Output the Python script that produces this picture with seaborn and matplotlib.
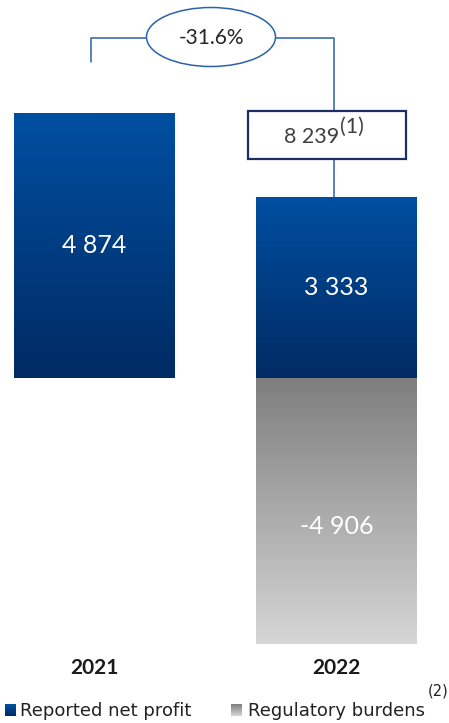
import numpy as np
import pandas as pd
import matplotlib
matplotlib.use("Agg")
import matplotlib.pyplot as plt
import matplotlib.transforms as mtransforms
from matplotlib.patches import Ellipse, Rectangle
from matplotlib.colors import to_rgb
import seaborn as sns

# ---- data ----
years = ["2021", "2022"]
net_profit = [4874, 3333]
regulatory_burdens = [np.nan, -4906]
adjusted_2022 = 8239
series_labels = ["Reported net profit", "Regulatory burdens"]

df = pd.DataFrame({"year": years, "net": net_profit, "burden": regulatory_burdens})

W, H = 449, 723
sns.set_theme(style="white")
plt.rcParams["font.family"] = ["Lato", "DejaVu Sans"]

fig = plt.figure(figsize=(W / 100, H / 100), dpi=100)
ax = fig.add_axes([0, 0, 1, 1])

BAR_W = 0.665
sns.barplot(data=df, x="year", y="net", order=years, color="#003f87",
            width=BAR_W, ax=ax, errorbar=None)
sns.barplot(data=df, x="year", y="burden", order=years, color="#aaaaaa",
            width=BAR_W, ax=ax, errorbar=None)

XLIM, YLIM = (-0.3905, 1.465), (-6362, 6955)
ax.set_xlim(*XLIM)
ax.set_ylim(*YLIM)
ax.set_axis_off()


def gradient(top, bottom, n=256):
    t = np.linspace(0, 1, n)[:, None]
    a, b = np.array(to_rgb(top)), np.array(to_rgb(bottom))
    return (a * (1 - t) + b * t)[:, None, :]


blue_grad = gradient("#004fa2", "#002b63")
gray_grad = gradient("#7e7e7e", "#d6d6d6")

# paint each bar with a vertical gradient clipped to its rectangle
for p in list(ax.patches):
    h = p.get_height()
    if h is None or np.isnan(h) or h == 0:
        continue
    x0, w = p.get_x(), p.get_width()
    y0, y1 = min(0, h), max(0, h)
    g = blue_grad if h > 0 else gray_grad
    im = ax.imshow(g, extent=[x0, x0 + w, y0, y1], aspect="auto",
                   origin="upper", zorder=3, interpolation="bilinear")
    im.set_clip_path(p)

ax.set_xlim(*XLIM)
ax.set_ylim(*YLIM)


def fmt(v):
    return f"{int(v):,}".replace(",", " ")


# value labels inside the bars
for i, v in enumerate(net_profit):
    ax.text(i, v / 2, fmt(v), color="white", fontsize=18, ha="center",
            va="center", zorder=5)
for i, v in enumerate(regulatory_burdens):
    if not np.isnan(v):
        ax.text(i, v * 0.56, fmt(v), color="white", fontsize=18,
                ha="center", va="center", zorder=5)

# pixel coordinates measured from the top-left corner
pix = mtransforms.Affine2D().scale(1, -1).translate(0, H)


def to_pix(x, y):
    dx, dy = ax.transData.transform((x, y))
    return dx, H - dy


line_c = "#2a62aa"
x_left = to_pix(0, 0)[0] - 3
x_right = to_pix(1, 0)[0] - 2
bar2_top = to_pix(1, net_profit[1])[1]

# change bracket with ellipse
ell_cx, ell_cy, ell_w, ell_h = 211, 37, 129, 59
ax.plot([x_left, x_left, ell_cx - ell_w / 2], [62, 38, 38], color=line_c,
        lw=1.1, transform=pix, zorder=4)
ax.plot([ell_cx + ell_w / 2, x_right, x_right], [38, 38, 111], color=line_c,
        lw=1.1, transform=pix, zorder=4)
ax.add_patch(Ellipse((ell_cx, ell_cy), ell_w, ell_h, transform=pix,
                     facecolor="white", edgecolor=line_c, lw=1.1, zorder=4))
change = (net_profit[1] / net_profit[0] - 1) * 100
ax.text(ell_cx, ell_cy + 1, f"{change:.1f}%", transform=pix, ha="center",
        va="center", fontsize=15, color="#262626", zorder=5)

# adjusted profit box and its connector
ax.plot([x_right, x_right], [159, bar2_top], color=line_c, lw=1.1,
        transform=pix, zorder=4)
ax.add_patch(Rectangle((248, 111), 158, 48, transform=pix, facecolor="white",
                       edgecolor="#1b2f66", lw=1.6, zorder=4))
t_main = ax.text(284, 143, fmt(adjusted_2022), transform=pix, ha="left",
                 va="baseline", fontsize=15.5, color="#404040", zorder=5)
fig.canvas.draw()
bb = t_main.get_window_extent()
ax.text(bb.x1 + 0.5, 127, "(1)", transform=pix, ha="left", va="center",
        fontsize=15.5, color="#404040", zorder=5)

# year labels
for i, y in enumerate(years):
    ax.text(to_pix(i, 0)[0], 668, y, transform=pix, ha="center", va="center",
            fontsize=15, fontweight="bold", color="#1a1a1a")

# legend
lax1 = fig.add_axes([5 / W, 1 - 716 / H, 11 / W, 12 / H])
lax1.imshow(blue_grad, aspect="auto")
lax1.set_axis_off()
lax2 = fig.add_axes([231 / W, 1 - 716 / H, 11 / W, 12 / H])
lax2.imshow(gray_grad, aspect="auto")
lax2.set_axis_off()

leg_font = ["DejaVu Sans"]
ax.text(20, 716, series_labels[0], transform=pix, ha="left", family=leg_font,
        va="baseline", fontsize=13, color="#222222")
t_leg = ax.text(248, 716, series_labels[1], transform=pix, ha="left",
                family=leg_font, va="baseline", fontsize=13, color="#222222")
fig.canvas.draw()
bb2 = t_leg.get_window_extent()
ax.text(bb2.x1 + 3, 691, "(2)", transform=pix, ha="left", va="center",
        family=leg_font, fontsize=10.5, color="#222222")

fig.savefig("out.png", dpi=100)
